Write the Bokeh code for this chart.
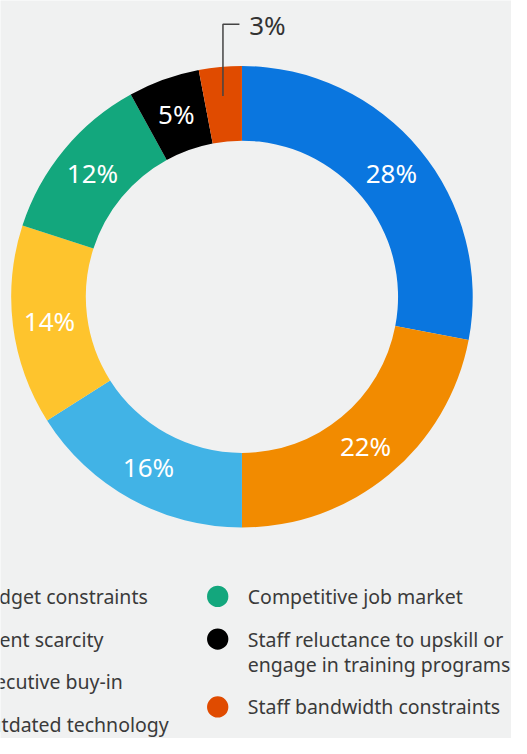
import numpy as np
from bokeh.plotting import figure
from bokeh.models import Range1d, ColumnDataSource
from bokeh.core.properties import value
from bokeh.embed import file_html
from bokeh.resources import INLINE

# ---- data ----
categories = ["Budget constraints", "Talent scarcity", "Executive buy-in",
              "Outdated technology", "Competitive job market",
              "Staff reluctance to upskill or\nengage in training programs",
              "Staff bandwidth constraints"]
shares = [28, 22, 16, 14, 12, 5, 3]
labels = ["28%", "22%", "16%", "14%", "12%", "5%", "3%"]
colors = ["#0a76df", "#f28b00", "#41b3e6", "#fec42d", "#13a77d", "#000000", "#e04b00"]

BG = "#f0f1f1"
FONT = "Noto Sans"

# ---- layout (reference pixel space, y flipped) ----
W, H = 511, 738
REF_W, REF_H = 527, 754
s = W / REF_W
yspan = H / s
y_lo = (REF_H / 2) - yspan / 2
y_hi = (REF_H / 2) + yspan / 2

def Y(yref):
    return REF_H - yref

cx, cy = 249, Y(302)
R_out, R_in = 238, 161

p = figure(width=W, height=H, output_backend="svg", toolbar_location=None,
           x_range=Range1d(0, REF_W), y_range=Range1d(y_lo, y_hi),
           min_border=0, background_fill_color=BG, border_fill_color=BG,
           outline_line_color=None)
p.axis.visible = False
p.grid.visible = False

vals = np.array(shares, dtype=float)
frac = vals / vals.sum()
cum_end = np.cumsum(frac)
cum_start = cum_end - frac
start = np.pi / 2 - cum_start * 2 * np.pi
end = np.pi / 2 - cum_end * 2 * np.pi
mid = np.pi / 2 - (cum_start + frac / 2) * 2 * np.pi

src = ColumnDataSource(dict(start=start, end=end, color=colors))
p.annular_wedge(x=cx, y=cy, inner_radius=R_in, outer_radius=R_out,
                start_angle="start", end_angle="end", direction="clock",
                fill_color="color", line_color=None, source=src)

# in-ring labels (all but the last small slice)
r_lab = 200
lx = cx + r_lab * np.cos(mid[:-1])
ly = cy + r_lab * np.sin(mid[:-1])
p.text(x=lx, y=ly, text=labels[:-1], text_color="white",
       text_font=value(FONT), text_font_size="26px",
       text_align="center", text_baseline="middle")

# callout for small slice
r_call = 208
px0 = cx + r_call * np.cos(mid[-1])
py0 = cy + r_call * np.sin(mid[-1])
top_y = Y(21)
p.line(x=[px0, px0, px0 + 17], y=[py0, top_y, top_y], line_color="#444444", line_width=1.5)
p.text(x=[px0 + 27], y=[top_y - 1], text=[labels[-1]], text_color="#333333",
       text_font=value(FONT), text_font_size="26px",
       text_align="left", text_baseline="middle")

# legend
col_text_x = [-27, 255]
col_rows = [[611, 655, 699, 743], [611, 655, 725]]
split = 4
items = [list(range(0, split)), list(range(split, len(categories)))]
for c in range(2):
    tx = col_text_x[c]
    for k, idx in enumerate(items[c]):
        yy = Y(col_rows[c][k])
        p.circle(x=[tx - 31], y=[yy], radius=11, fill_color=colors[idx], line_color=None)
        lines = categories[idx].split("\n")
        for j, ln in enumerate(lines):
            p.text(x=[tx], y=[yy - 26 * j], text=[ln], text_color="#3a3a3a",
                   text_font=value(FONT), text_font_size="19.5px",
                   text_align="left", text_baseline="middle")

open("out.html", "w").write(file_html(p, INLINE))
